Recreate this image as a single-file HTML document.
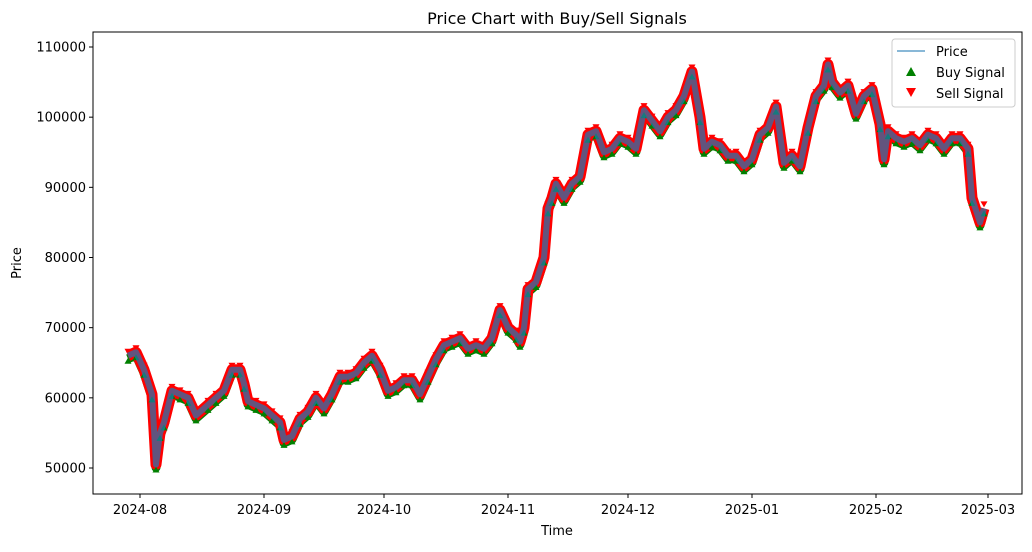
<!DOCTYPE html>
<html><head><meta charset="utf-8"><style>
body{margin:0;background:#fff;font-family:"Liberation Sans","DejaVu Sans",sans-serif}
svg text{font-family:"DejaVu Sans","Liberation Sans",sans-serif}
</style></head><body>
<svg id="chart" width="1032" height="547" xmlns="http://www.w3.org/2000/svg">
<rect width="1032" height="547" fill="#fff"/>
<text x="557" y="24" font-size="16" text-anchor="middle">Price Chart with Buy/Sell Signals</text>
<g id="marks"></g>
<rect x="93" y="32" width="929" height="462" fill="none" stroke="#000" stroke-width="1"/>
<g id="axes"></g>
<text x="557" y="535" font-size="13" text-anchor="middle">Time</text>
<text x="21" y="263" font-size="13" text-anchor="middle" transform="rotate(-90 21 263)">Price</text>
<g>
<rect x="892" y="39" width="123" height="68" rx="3" fill="#fff" fill-opacity="0.8" stroke="#ccc"/>
<line x1="897" y1="51" x2="925" y2="51" stroke="#1f77b4" stroke-opacity="0.7" stroke-width="1.5"/>
<text x="936" y="56" font-size="13">Price</text>
<polygon points="911,67 906,76 916,76" fill="green"/>
<text x="936" y="77" font-size="13">Buy Signal</text>
<polygon points="906,88 916,88 911,97" fill="red"/>
<text x="936" y="98" font-size="13">Sell Signal</text>
</g>
</svg>
<script>
const dates=["2024-07-29","2024-07-31","2024-08-02","2024-08-04","2024-08-05","2024-08-06","2024-08-07","2024-08-09","2024-08-11","2024-08-13","2024-08-15","2024-08-18","2024-08-20","2024-08-22","2024-08-24","2024-08-26","2024-08-27","2024-08-28","2024-08-30","2024-09-01","2024-09-03","2024-09-05","2024-09-06","2024-09-08","2024-09-10","2024-09-12","2024-09-14","2024-09-16","2024-09-18","2024-09-20","2024-09-22","2024-09-24","2024-09-26","2024-09-28","2024-09-30","2024-10-02","2024-10-04","2024-10-06","2024-10-08","2024-10-10","2024-10-12","2024-10-14","2024-10-16","2024-10-18","2024-10-20","2024-10-22","2024-10-24","2024-10-26","2024-10-28","2024-10-30","2024-11-01","2024-11-03","2024-11-04","2024-11-05","2024-11-06","2024-11-08","2024-11-10","2024-11-11","2024-11-12","2024-11-13","2024-11-15","2024-11-17","2024-11-19","2024-11-21","2024-11-23","2024-11-25","2024-11-27","2024-11-29","2024-12-01","2024-12-03","2024-12-05","2024-12-07","2024-12-09","2024-12-11","2024-12-13","2024-12-15","2024-12-17","2024-12-19","2024-12-20","2024-12-22","2024-12-24","2024-12-26","2024-12-28","2024-12-30","2025-01-01","2025-01-03","2025-01-05","2025-01-07","2025-01-09","2025-01-11","2025-01-13","2025-01-15","2025-01-17","2025-01-19","2025-01-20","2025-01-21","2025-01-23","2025-01-25","2025-01-27","2025-01-29","2025-01-31","2025-02-02","2025-02-03","2025-02-04","2025-02-06","2025-02-08","2025-02-10","2025-02-12","2025-02-14","2025-02-16","2025-02-18","2025-02-20","2025-02-22","2025-02-24","2025-02-25","2025-02-27","2025-02-28"];
const prices=[66000,66500,64000,60500,50500,55000,56500,61000,60500,60000,57500,59000,60000,61000,64000,64000,62000,59500,59000,58500,57500,56500,54000,54500,57000,58000,60000,58500,60500,63000,63000,63500,65000,66000,64000,61000,61500,62500,62500,60500,63000,65500,67500,68000,68500,67000,67500,67000,68500,72500,70000,69000,68000,70000,75500,76500,80000,87000,88500,90500,88500,90500,91500,97500,98000,95000,95500,97000,96500,95500,101000,99500,98000,100000,101000,103000,106500,100000,95500,96500,96000,94500,94500,93000,94000,97500,98500,101500,93500,94500,93000,98500,103000,104500,107500,105000,103500,104500,100500,103000,104000,99000,94000,98000,97000,96500,97000,96000,97500,97000,95500,97000,97000,95500,88500,85000,87000];
const yTicks=[50000,60000,70000,80000,90000,100000,110000];
const xTickLabels=["2024-08","2024-09","2024-10","2024-11","2024-12","2025-01","2025-02","2025-03"];
const NS="http://www.w3.org/2000/svg";
const t0=Date.UTC(2024,7,1);
function xs(d){const p=d.split("-");const t=Date.UTC(+p[0],+p[1]-1,+(p[2]||1));return 140+(t-t0)/86400000*4.0;}
function ys(v){return 47+(110000-v)*0.0070167;}
function mk(tag,attrs,parent){const e=document.createElementNS(NS,tag);for(const k in attrs)e.setAttribute(k,attrs[k]);parent.appendChild(e);return e;}
const marks=document.getElementById("marks"),axes=document.getElementById("axes");
const pts=dates.map((d,i)=>[xs(d),ys(prices[i])]);
const ptsStr=pts.map(p=>p[0].toFixed(1)+","+p[1].toFixed(1)).join(" ");
const gband=mk("polyline",{points:pts.map(p=>p[0].toFixed(1)+","+(p[1]+3).toFixed(1)).join(" "),fill:"none",stroke:"green","stroke-width":9,"stroke-linejoin":"round"},marks);


const band=mk("polyline",{points:ptsStr,fill:"none",stroke:"red","stroke-width":11,"stroke-linejoin":"round"},marks);


pts.forEach((p,i)=>{
 const g=mk("polygon",{points:`${p[0]},${p[1]+2} ${p[0]-3.5},${p[1]+8} ${p[0]+3.5},${p[1]+8}`,fill:"green"},marks);
 
 
 const r=mk("polygon",{points:`${p[0]-3.5},${p[1]-7} ${p[0]+3.5},${p[1]-7} ${p[0]},${p[1]-1}`,fill:"red"},marks);
 
 
});
const line=mk("polyline",{points:ptsStr,fill:"none",stroke:"#1f77b4","stroke-opacity":0.7,"stroke-width":6,"stroke-linejoin":"round"},marks);


yTicks.forEach(v=>{const y=ys(v);
 const l=mk("line",{x1:89,x2:93,y1:y,y2:y,stroke:"#000"},axes);
 
 
 const t=mk("text",{x:86,y:y+4.5,"font-size":13,"text-anchor":"end"},axes);t.textContent=v;
 
 
});
xTickLabels.forEach(s=>{const x=xs(s);
 const l=mk("line",{x1:x,x2:x,y1:494,y2:498,stroke:"#000"},axes);
 
 
 const t=mk("text",{x:x,y:514,"font-size":13,"text-anchor":"middle"},axes);t.textContent=s;
 
 
});
</script>
</body></html>
